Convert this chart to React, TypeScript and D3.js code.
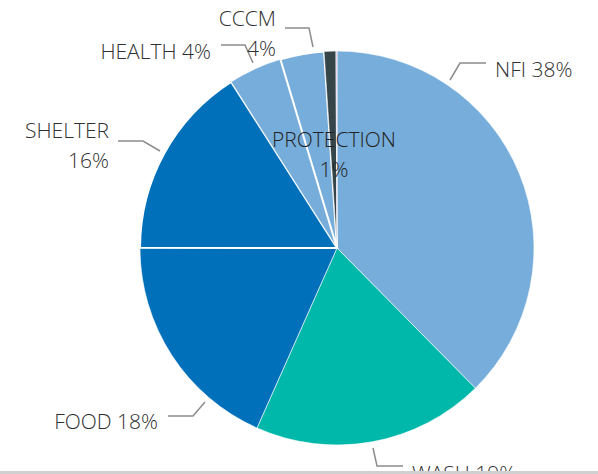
import React from "react";
import * as d3 from "d3";

const categories = ["NFI", "WASH", "FOOD", "SHELTER", "HEALTH", "CCCM", "PROTECTION", "OTHER"];
const values = [37.7, 19.1, 18.4, 16.0, 4.4, 3.6, 0.97, 0.08];
const labels = ["NFI 38%", "WASH 19%", "FOOD 18%", "SHELTER|16%", "HEALTH 4%", "CCCM|4%", "PROTECTION|1%", ""];
const colors = ["#77ADDA", "#00B8AA", "#0070BA", "#0070BA", "#77ADDA", "#77ADDA", "#36454A", "#D8A6C4"];

const W = 598;
const H = 474;
const cx = 337;
const cy = 248;
const R = 197;

const labelPos: Record<string, { x: number; y: number; anchor: string; leader?: [number, number][] }> = {
  NFI: { x: 495, y: 77, anchor: "start", leader: [[450, 80], [460, 63], [486, 63]] },
  WASH: { x: 412, y: 481, anchor: "start", leader: [[373, 448], [377, 466], [403, 466]] },
  FOOD: { x: 158, y: 429, anchor: "end", leader: [[205, 402], [193, 416], [168, 416]] },
  SHELTER: { x: 109, y: 138, anchor: "end", leader: [[160, 151], [143, 141], [118, 141]] },
  HEALTH: { x: 211, y: 59, anchor: "end", leader: [[253, 63], [245, 45], [221, 45]] },
  CCCM: { x: 276, y: 26, anchor: "end", leader: [[313, 47], [309, 28], [285, 28]] },
  PROTECTION: { x: 334, y: 147, anchor: "middle" },
};

export default function App() {
  const pie = d3.pie<number>().sort(null).value((d) => d);
  const arcs = pie(values);
  const arcGen = d3.arc<d3.PieArcDatum<number>>().innerRadius(0).outerRadius(R);
  const line = d3.line();

  return (
    <svg width={W} height={H} style={{ position: "absolute", left: 0, top: 0 }}>
      <rect x={0} y={0} width={W} height={H} fill="#FFFFFF" />
      <g transform={`translate(${cx},${cy})`}>
        {arcs.map((a, i) => (
          <path key={categories[i]} d={arcGen(a) || ""} fill={colors[i]} stroke="#FFFFFF" strokeWidth={i === 3 || i === 5 ? 2 : 0.6} />
        ))}
      </g>
      {categories.map((c, i) => {
        const p = labelPos[c];
        if (!p) return null;
        const lines = labels[i].split("|");
        return (
          <g key={c}>
            {p.leader && (
              <path d={line(p.leader) || ""} fill="none" stroke="#8C8C8C" strokeWidth={1.5} />
            )}
            <text
              x={p.x}
              y={p.y}
              textAnchor={p.anchor}
              fontFamily="'Open Sans', sans-serif"
              fontSize={21}
              fontWeight={300}
              fill={c === "PROTECTION" ? "#222222" : "#303030"}
            >
              {lines.map((t, k) => (
                <tspan key={k} x={p.x} dy={k === 0 ? 0 : 30}>
                  {t}
                </tspan>
              ))}
            </text>
          </g>
        );
      })}
      <rect x={0} y={471} width={W} height={3} fill="#D0D0D0" />
    </svg>
  );
}
